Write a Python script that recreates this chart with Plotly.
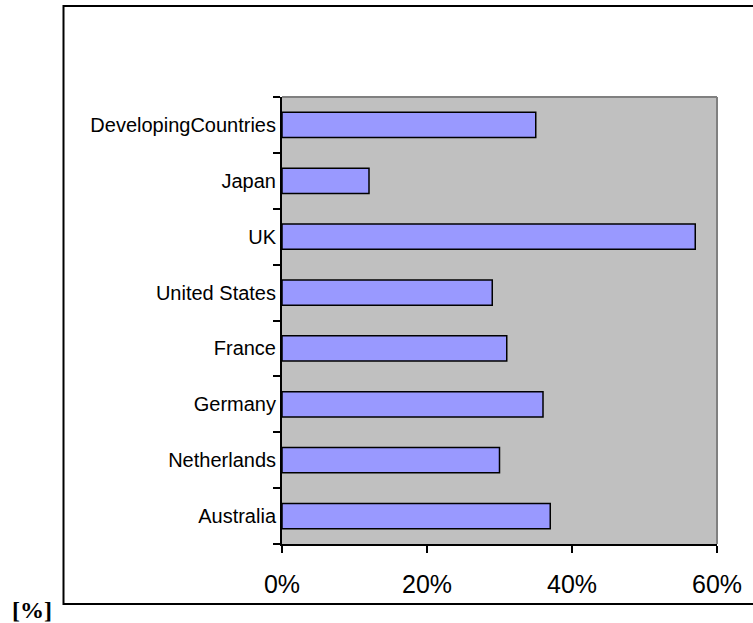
import plotly.graph_objects as go

# Share by country (bottom to top as drawn)
countries = ["Australia", "Netherlands", "Germany", "France",
             "United States", "UK", "Japan", "DevelopingCountries"]
shares = [0.37, 0.30, 0.36, 0.31, 0.29, 0.57, 0.12, 0.35]
x_ticks = [0.0, 0.2, 0.4, 0.6]
x_tick_text = ["0%", "20%", "40%", "60%"]

W, H = 753, 623
L, R, T, B = 282, 36, 97, 79
pw, ph = W - L - R, H - T - B

def px_x(v):
    return (v - L) / pw

def px_y(v):
    return (H - B - v) / ph

fig = go.Figure(go.Bar(
    y=countries, x=shares, orientation="h",
    marker=dict(color="#9999FF", line=dict(color="black", width=1.5)),
))

fig.update_layout(
    width=W, height=H,
    margin=dict(l=L, r=R, t=T, b=B, pad=0),
    paper_bgcolor="white", plot_bgcolor="#C0C0C0",
    bargap=0.55, showlegend=False,
    font=dict(family="Liberation Sans, Arial, sans-serif", color="black"),
    shapes=[
        # outer frame
        dict(type="rect", xref="paper", yref="paper",
             x0=px_x(63.5), x1=px_x(760), y0=px_y(604), y1=px_y(6),
             line=dict(color="black", width=2), layer="below"),
        # plot area top and right border
        dict(type="line", xref="paper", yref="paper",
             x0=0, x1=1, y0=1, y1=1, line=dict(color="#808080", width=2)),
        dict(type="line", xref="paper", yref="paper",
             x0=1, x1=1, y0=0, y1=1, line=dict(color="#808080", width=2)),
    ],
    annotations=[
        dict(text="<b>[%]</b>", xref="paper", yref="paper",
             x=px_x(32), y=px_y(610), showarrow=False,
             xanchor="center", yanchor="middle",
             font=dict(family="Liberation Serif", size=24)),
    ],
)

fig.update_xaxes(
    range=[0, 0.6], tickvals=x_ticks, ticktext=x_tick_text,
    ticks="outside", ticklen=7, tickwidth=1.5, tickcolor="black",
    showline=True, linecolor="black", linewidth=2,
    showgrid=False, zeroline=False,
    tickfont=dict(size=25), ticklabelstandoff=10,
)
fig.update_yaxes(
    categoryorder="array", categoryarray=countries,
    ticks="outside", ticklen=7, tickwidth=1.5, tickcolor="black",
    tickson="boundaries",
    showline=True, linecolor="black", linewidth=2,
    showgrid=False, zeroline=False,
    tickfont=dict(size=20), ticklabelstandoff=0,
)

fig.write_html("out.html")
